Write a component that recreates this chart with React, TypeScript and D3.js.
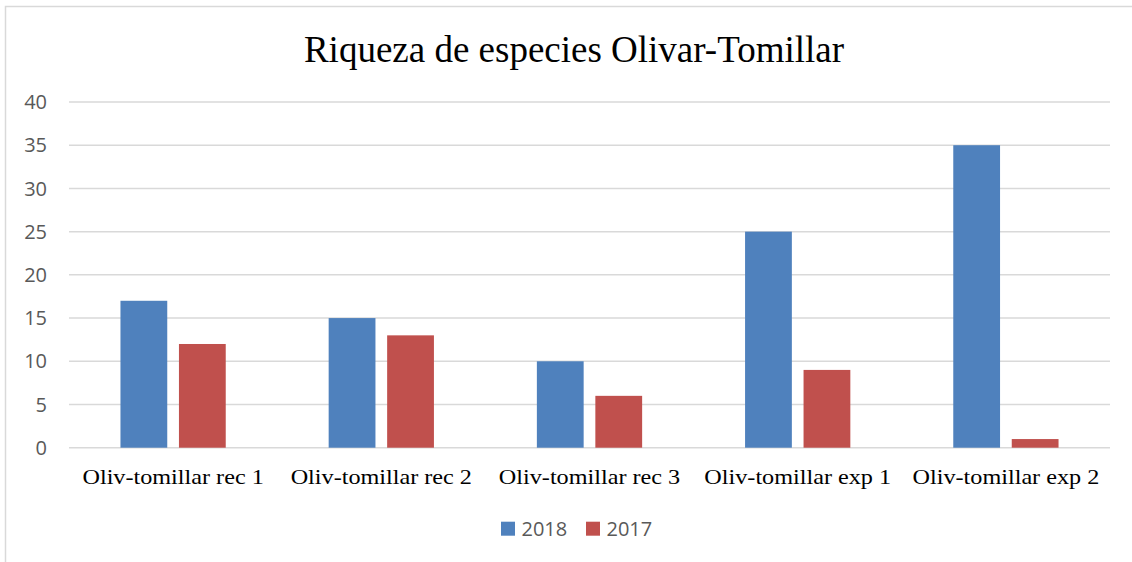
import React, { useEffect, useRef } from 'react';
import * as d3 from 'd3';

const categories = [
    'Oliv-tomillar rec 1',
    'Oliv-tomillar rec 2',
    'Oliv-tomillar rec 3',
    'Oliv-tomillar exp 1',
    'Oliv-tomillar exp 2',
];
const seriesNames = ['2018', '2017'];
const values2018 = [17, 15, 10, 25, 35];
const values2017 = [12, 13, 6, 9, 1];
const yTicks = [0, 5, 10, 15, 20, 25, 30, 35, 40];
const colors = ['#4F81BD', '#C0504D'];

const App = () => {
    const svgRef = useRef(null);

    useEffect(() => {
        const svg = d3.select(svgRef.current);
        const width = 1132;
        const height = 562;
        const marginLeft = 69;
        const marginRight = 22;
        const marginTop = 102;
        const plotBottom = 447.7;

        svg.selectAll('*').remove();

        // chart frame
        svg.append('rect')
            .attr('x', 5.5)
            .attr('y', 6.5)
            .attr('width', width + 10)
            .attr('height', height + 10)
            .attr('fill', '#fff')
            .attr('stroke', '#D9D9D9')
            .attr('stroke-width', 1.5);

        const x0 = d3.scaleBand()
            .domain(categories)
            .range([marginLeft, width - marginRight])
            .padding(0);

        const x1 = d3.scaleBand()
            .domain(seriesNames)
            .range([0, x0.bandwidth()])
            .paddingInner(0.2)
            .paddingOuter(0.88);

        const y = d3.scaleLinear()
            .domain([0, 40])
            .range([plotBottom, marginTop]);

        // gridlines
        svg.append('g')
            .selectAll('line')
            .data(yTicks)
            .enter()
            .append('line')
            .attr('x1', marginLeft)
            .attr('x2', width - marginRight)
            .attr('y1', d => y(d))
            .attr('y2', d => y(d))
            .attr('stroke', '#D9D9D9')
            .attr('stroke-width', 1.5);

        // y labels
        svg.append('g')
            .selectAll('text')
            .data(yTicks)
            .enter()
            .append('text')
            .attr('x', 47)
            .attr('y', d => y(d))
            .attr('dy', '0.36em')
            .attr('text-anchor', 'end')
            .attr('font-family', 'Open Sans, sans-serif')
            .attr('font-size', 20)
            .attr('fill', '#595959')
            .text(d => d);

        const rows = categories.map((c, i) => ({
            category: c,
            vals: [values2018[i], values2017[i]],
        }));

        const groups = svg.append('g')
            .selectAll('g')
            .data(rows)
            .enter()
            .append('g')
            .attr('transform', d => `translate(${x0(d.category)},0)`);

        groups.selectAll('rect')
            .data(d => d.vals.map((v, j) => ({ key: seriesNames[j], value: v, j })))
            .enter()
            .append('rect')
            .attr('x', d => x1(d.key))
            .attr('y', d => y(d.value))
            .attr('width', x1.bandwidth())
            .attr('height', d => y(0) - y(d.value))
            .attr('fill', d => colors[d.j]);

        // category labels (slightly wide serif, as in the original)
        svg.append('g')
            .selectAll('text')
            .data(categories)
            .enter()
            .append('text')
            .attr('transform', d => `translate(${x0(d) + x0.bandwidth() / 2},483.5) scale(1.1,1)`)
            .attr('text-anchor', 'middle')
            .attr('font-family', 'Liberation Serif, Times New Roman, serif')
            .attr('font-size', 22)
            .attr('fill', '#000')
            .text(d => d);

        // title
        svg.append('text')
            .attr('x', 574)
            .attr('y', 61.7)
            .attr('text-anchor', 'middle')
            .attr('font-family', 'Liberation Serif, Times New Roman, serif')
            .attr('font-size', 37)
            .attr('fill', '#000')
            .text('Riqueza de especies Olivar-Tomillar');

        // legend
        const legendX = [501, 586];
        const legend = svg.append('g')
            .selectAll('g')
            .data(seriesNames)
            .enter()
            .append('g')
            .attr('transform', (d, i) => `translate(${legendX[i]},521.7)`);

        legend.append('rect')
            .attr('width', 14)
            .attr('height', 14)
            .attr('fill', (d, i) => colors[i]);

        legend.append('text')
            .attr('x', 20.5)
            .attr('y', 7)
            .attr('dy', '0.36em')
            .attr('font-family', 'Open Sans, sans-serif')
            .attr('font-size', 20)
            .attr('fill', '#595959')
            .text(d => d);
    }, []);

    return (
        <svg
            ref={svgRef}
            width={1132}
            height={562}
            style={{ position: 'absolute', left: 0, top: 0, display: 'block' }}
        ></svg>
    );
};

export default App;
